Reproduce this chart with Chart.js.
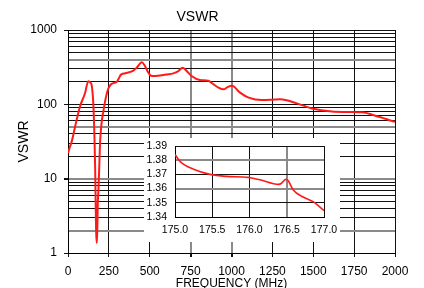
<!DOCTYPE html>
<html>
<head>
<meta charset="utf-8">
<script src="https://cdn.jsdelivr.net/npm/chart.js@4/dist/chart.umd.min.js"></script>
<style>
    html, body { margin: 0; padding: 0; background: #fff; overflow: hidden; }
    #wrap { position: relative; width: 424px; height: 288px; }
    canvas { display: block; }
    #insetChart { position: absolute; left: 144px; top: 130px; }
</style>
</head>
<body>
<div id="wrap">
    <canvas id="mainChart" width="424" height="288"></canvas>
    <canvas id="insetChart" width="210" height="112"></canvas>
</div>
<script>
// Основной график: 0 - 2000 МГц
const freqMHz = [0, 10, 25, 45, 73, 104, 124, 138, 145, 155, 162, 166, 169, 172, 176, 179, 182, 186, 191, 196,
    205, 216, 232, 247, 262, 277, 300, 310, 322, 350, 400, 425, 451, 470, 490, 512, 550, 600, 644, 675,
    701, 730, 756, 807, 858, 881, 920, 952, 975, 1003, 1050, 1105, 1186, 1299, 1400, 1492, 1615, 1700, 1798, 1900, 2000];
const vswr = [22, 26, 33, 52, 93, 141, 205, 195, 180, 100, 35, 14, 5, 2, 1.36, 2, 4.5, 7, 14, 30,
    55, 80, 125, 164, 185, 193, 202, 222, 248, 262, 284, 320, 367, 330, 270, 240, 242, 252, 261, 280,
    311, 275, 240, 212, 208, 192, 168, 159, 170, 178, 145, 123, 114, 117, 103, 88, 80, 79, 78, 68, 58];
const freqTicks = [0, 250, 500, 750, 1000, 1250, 1500, 1750, 2000];
const vswrTickLabels = [1, 10, 100, 1000];

// Врезка: 175 - 177 МГц
const insetFreqMHz = [175.0, 175.07, 175.25, 175.47, 175.69, 175.98, 176.14, 176.39, 176.43, 176.49, 176.52, 176.59, 176.72, 176.86, 177.0];
const insetVswr = [1.3840, 1.3790, 1.3736, 1.3700, 1.3686, 1.3679, 1.3662, 1.3630, 1.3638, 1.3666, 1.3655, 1.3588, 1.3541, 1.3506, 1.3445];
const insetFreqTicks = [175.0, 175.5, 176.0, 176.5, 177.0];
const insetVswrTicks = [1.34, 1.35, 1.36, 1.37, 1.38, 1.39];

// Линии сетки, которые на оригинале выглядят серыми
const SOFT_Y = [2, 10, 50, 400];
const SOFT_X = [750, 1000];
const SOFT_INSET_Y = [1.36, 1.38];
const SOFT_INSET_X = [176.5];

const FONT = '"Liberation Sans", Arial, Helvetica, sans-serif';
const RED = '#ff1a1a';

function toPoints(xs, ys) {
    return xs.map((x, i) => ({x: x, y: ys[i]}));
}

function isSoft(list, value) {
    return list.some((v) => Math.abs(v - value) < 1e-6);
}

function gridColor(list) {
    return (ctx) => (ctx.tick && isSoft(list, ctx.tick.value) ? '#8a8a8a' : '#111');
}

function gridWidth(list) {
    return (ctx) => (ctx.tick && isSoft(list, ctx.tick.value) ? 2 : 1);
}

// все деления логарифмической шкалы 1..1000
function logGrid() {
    const values = [];
    for (let decade = 1; decade < 1000; decade *= 10) {
        for (let m = 1; m < 10; m++) {
            values.push(m * decade);
        }
    }
    values.push(1000);
    return values;
}

// белая подложка врезки (перекрывает сетку основного графика)
const insetBackground = {
    id: 'insetBackground',
    beforeDraw(chart) {
        const ctx = chart.ctx;
        ctx.save();
        ctx.fillStyle = '#fff';
        ctx.fillRect(0, 8, 196, 104);
        ctx.restore();
    },
};

function loadMainChart() {
    const ctx = document.getElementById('mainChart').getContext('2d');
    new Chart(ctx, {
        type: 'line',
        data: {
            datasets: [
                {
                    data: toPoints(freqMHz, vswr),
                    borderColor: RED,
                    borderWidth: 2,
                    pointRadius: 0,
                    cubicInterpolationMode: 'monotone',
                    fill: false,
                },
            ],
        },
        options: {
            responsive: false,
            animation: false,
            layout: {padding: {left: 0, right: 29, top: 0, bottom: 0}},
            plugins: {
                legend: {display: false},
                tooltip: {enabled: false},
                title: {
                    display: true,
                    text: 'VSWR',
                    color: '#000',
                    font: {family: FONT, size: 14, weight: 'normal'},
                    padding: {top: 9, bottom: 4.2},
                },
            },
            scales: {
                x: {
                    type: 'linear',
                    min: 0,
                    max: 2000,
                    afterBuildTicks: (scale) => {
                        scale.ticks = freqTicks.map((v) => ({value: v}));
                    },
                    afterFit: (scale) => {
                        scale.height = 35;
                    },
                    ticks: {
                        color: '#000',
                        font: {family: FONT, size: 12},
                        padding: 7,
                        maxRotation: 0,
                        autoSkip: false,
                        callback: (value) => String(value),
                    },
                    grid: {
                        color: gridColor(SOFT_X),
                        lineWidth: gridWidth(SOFT_X),
                        tickColor: '#111',
                        tickLength: 4,
                    },
                    border: {color: '#000', width: 1},
                    title: {
                        display: true,
                        text: 'FREQUENCY (MHz)',
                        color: '#000',
                        font: {family: FONT, size: 12},
                        padding: {top: 0, bottom: -3},
                    },
                },
                y: {
                    type: 'logarithmic',
                    min: 1,
                    max: 1000,
                    afterBuildTicks: (scale) => {
                        scale.ticks = logGrid().map((v) => ({value: v}));
                    },
                    afterFit: (scale) => {
                        scale.width = 68;
                    },
                    ticks: {
                        color: '#000',
                        font: {family: FONT, size: 12},
                        padding: 7,
                        autoSkip: false,
                        callback: (value) => (vswrTickLabels.includes(value) ? String(value) : ''),
                    },
                    grid: {
                        color: gridColor(SOFT_Y),
                        lineWidth: gridWidth(SOFT_Y),
                        tickColor: (c) => (c.tick && vswrTickLabels.includes(c.tick.value) ? '#111' : 'rgba(0,0,0,0)'),
                        tickLength: 4,
                    },
                    border: {color: '#000', width: 1},
                    title: {
                        display: true,
                        text: 'VSWR',
                        color: '#000',
                        font: {family: FONT, size: 14},
                        padding: {top: 16, bottom: 0},
                    },
                },
            },
        },
    });
}

function loadInsetChart() {
    const ctx = document.getElementById('insetChart').getContext('2d');
    new Chart(ctx, {
        type: 'line',
        data: {
            datasets: [
                {
                    data: toPoints(insetFreqMHz, insetVswr),
                    borderColor: RED,
                    borderWidth: 1.6,
                    pointRadius: 0,
                    cubicInterpolationMode: 'monotone',
                    fill: false,
                },
            ],
        },
        plugins: [insetBackground],
        options: {
            responsive: false,
            animation: false,
            layout: {padding: {left: 0, right: 30, top: 16, bottom: 0}},
            plugins: {
                legend: {display: false},
                tooltip: {enabled: false},
            },
            scales: {
                x: {
                    type: 'linear',
                    min: 175,
                    max: 177,
                    afterBuildTicks: (scale) => {
                        scale.ticks = insetFreqTicks.map((v) => ({value: v}));
                    },
                    afterFit: (scale) => {
                        scale.height = 25;
                    },
                    ticks: {
                        color: '#000',
                        font: {family: FONT, size: 10.5},
                        padding: 7,
                        maxRotation: 0,
                        autoSkip: false,
                        callback: (value) => Number(value).toFixed(1),
                    },
                    grid: {
                        color: gridColor(SOFT_INSET_X),
                        lineWidth: gridWidth(SOFT_INSET_X),
                        drawTicks: false,
                    },
                    border: {color: '#000', width: 1},
                },
                y: {
                    type: 'linear',
                    min: 1.34,
                    max: 1.39,
                    afterBuildTicks: (scale) => {
                        scale.ticks = insetVswrTicks.map((v) => ({value: v}));
                    },
                    afterFit: (scale) => {
                        scale.width = 31;
                    },
                    ticks: {
                        color: '#000',
                        font: {family: FONT, size: 10.5},
                        padding: 8,
                        autoSkip: false,
                        callback: (value) => Number(value).toFixed(2),
                    },
                    grid: {
                        color: gridColor(SOFT_INSET_Y),
                        lineWidth: gridWidth(SOFT_INSET_Y),
                        drawTicks: false,
                    },
                    border: {color: '#000', width: 1},
                },
            },
        },
    });
}

loadMainChart();
loadInsetChart();
</script>
</body>
</html>
